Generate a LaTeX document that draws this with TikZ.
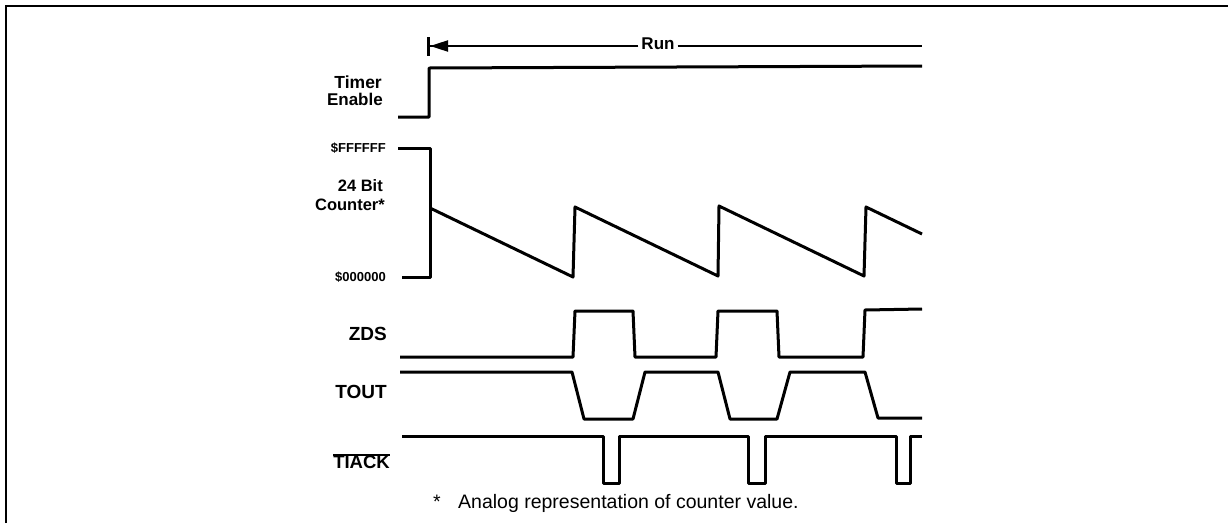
\documentclass[tikz,border=0pt]{standalone}
\usepackage{fontspec}
\setmainfont{Liberation Sans}
\usetikzlibrary{arrows.meta}
\begin{document}
\begin{tikzpicture}[x=1pt,y=-1pt,
  wave/.style={line width=3pt,line join=round},
  lbl/.style={anchor=east,inner sep=0pt,text height=0.72em,text depth=0pt,font=\bfseries\fontsize{#1}{#1}\selectfont},
  lbl/.default=17]
\useasboundingbox (0,0) rectangle (1228,523);
% frame
\draw[line width=2pt] (6,523) -- (6,6) -- (1228,6);
% labels
\node[lbl=17.5] (timer) at (382,85) {Timer};
\node[lbl=17] (enable) at (383,102) {Enable};
\node[lbl=13] (ff) at (386,149) {\$FFFFFF};
\node[lbl=16.5] (bit) at (383,188) {24 Bit};
\node[lbl=16.5] (counter) at (385,207) {Counter*};
\node[lbl=13] (zero) at (386,278) {\$000000};
\node[lbl=19] (zds) at (387,337) {ZDS};
\node[lbl=19] (tout) at (387,395) {TOUT};
\node[lbl=18.5] (tiack) at (390,465) {TIACK};
\draw[line width=1.8pt] ([yshift=6pt]tiack.north west) -- ([yshift=6pt]tiack.north east);
% Run arrow
\node[inner sep=0pt,text height=0.72em,text depth=0pt,font=\bfseries\fontsize{17}{17}\selectfont] (run) at (658,46) {Run};
\coordinate (runL) at (427,46);
\coordinate (runR) at (922,46);
\draw[line width=2pt,-{Triangle[length=18pt,width=11pt]Bar[width=19pt,line width=3pt]}] ([xshift=-3pt]run.west) -- (runL);
\draw[line width=2pt] ([xshift=3pt]run.east) -- (runR);
% Timer enable
\draw[wave] (398,117) -- (429,117) -- (429,68) -- (922,66);
% Counter
\draw[wave] (398,148) -- (430,148) -- (430,277) -- (402,277);
\draw[wave] (430,208) -- (573,277) -- (575,207) -- (718,276) -- (719,206) -- (864,276) -- (866,207) -- (922,234);
% ZDS
\draw[wave] (400,357) -- (573,357) -- (575,311) -- (633,311) -- (635,357) -- (716,357) -- (718,311) -- (777,311) -- (779,357) -- (863,357) -- (865,310) -- (922,309);
% TOUT
\draw[wave] (400,372) -- (572,372) -- (584,419) -- (633,419) -- (645,372) -- (718,372) -- (730,419) -- (777,419) -- (790,372) -- (865,372) -- (878,418) -- (922,418);
% TIACK
\draw[wave] (402,436) -- (603,436) -- (603,483) -- (619,483) -- (619,436) -- (748,436) -- (748,483) -- (765,483) -- (765,436) -- (896,436) -- (896,483) -- (910,483) -- (910,436) -- (922,436);
% footnote
\node[anchor=west,inner sep=0pt,text height=0.72em,text depth=0pt,font=\fontsize{19.5}{19.5}\selectfont] (note) at (433,505) {\makebox[25pt][l]{*}Analog representation of counter value.};
\end{tikzpicture}
\end{document}
